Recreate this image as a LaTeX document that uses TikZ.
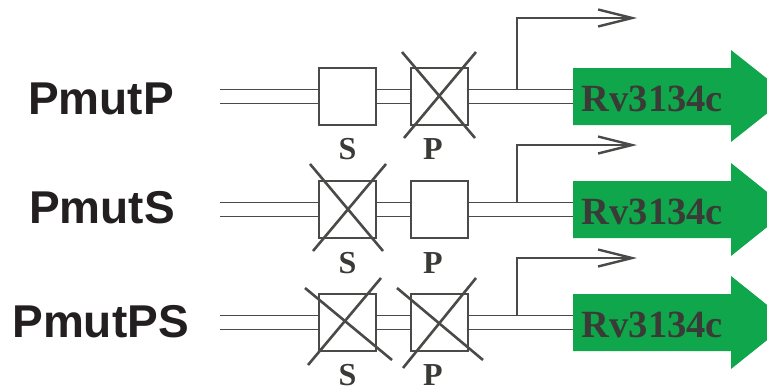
\documentclass[tikz,border=0pt]{standalone}
\usepackage{fontspec}
\setmainfont{Liberation Serif}
\newfontfamily\labelfont{Liberation Sans}
\usetikzlibrary{arrows.meta}
\definecolor{wire}{HTML}{4A4A48}
\definecolor{genegreen}{HTML}{10A64B}
\definecolor{genetext}{HTML}{3A3A36}
\definecolor{strain}{HTML}{231F20}
\tikzset{
  dna/.style={draw=wire, line width=1.3pt},
  sitebox/.style={draw=wire, line width=1.3pt, fill=white, minimum size=57pt, inner sep=0pt},
  xcross/.style={draw=wire, line width=2.6pt},
  sitelabel/.style={inner sep=0pt, text=genetext, font=\fontsize{32}{32}\selectfont\bfseries},
  strainlabel/.style={inner sep=0pt, anchor=base, text=strain, font=\labelfont\fontsize{46}{46}\selectfont\bfseries},
  genename/.style={inner sep=0pt, text=genetext, font=\fontsize{38.5}{38.5}\selectfont\bfseries},
  genearrow/.style={fill=genegreen, draw=none},
  promoter/.style={draw=wire, line width=1.3pt, -{Straight Barb[length=34pt,width=17pt,line width=2.4pt]}},
}
\begin{document}
\begin{tikzpicture}[x=1pt,y=-1pt]
\useasboundingbox (0,0) rectangle (767,391);
\clip (0,0) rectangle (767,391);

% ---------- PmutP ----------
\node[strainlabel] (n1) at (101,114) {PmutP};
\coordinate (d1a) at (220,89.5);  \coordinate (d1b) at (220,103.5);
\coordinate (e1a) at (573,89.5);  \coordinate (e1b) at (573,103.5);
\draw[dna] (d1a) -- (e1a);
\draw[dna] (d1b) -- (e1b);
\node[sitebox] (s1) at (347.5,96.5) {};
\node[sitebox] (p1) at (439.5,96.5) {};
\draw[xcross] ([shift={(-37.5,-44.5)}]p1.center) -- ([shift={(35.5,41.5)}]p1.center);
\draw[xcross] ([shift={(36.5,-44.5)}]p1.center) -- ([shift={(-35.5,41.5)}]p1.center);
\node[sitelabel] (ls1) at (347.5,149.5) {S};
\node[sitelabel] (lp1) at (433,149.5) {P};
\coordinate (t1) at (517,89.5);
\coordinate (u1) at (517,18);
\coordinate (v1) at (637,18);
\draw[promoter] (t1) -- (u1) -- (v1);
\fill[genearrow] (573,68) -- (731,68) -- (731,50) -- (789,96) -- (731,142) -- (731,125) -- (573,125) -- cycle;
\node[genename] (g1) at (652.5,99) {Rv3134c};

% ---------- PmutS ----------
\node[strainlabel] (n2) at (102,223) {PmutS};
\coordinate (d2a) at (220,202.5); \coordinate (d2b) at (220,216.5);
\coordinate (e2a) at (573,202.5); \coordinate (e2b) at (573,216.5);
\draw[dna] (d2a) -- (e2a);
\draw[dna] (d2b) -- (e2b);
\node[sitebox] (s2) at (347.5,209.5) {};
\node[sitebox] (p2) at (439.5,209.5) {};
\draw[xcross] ([shift={(-37.5,-45.5)}]s2.center) -- ([shift={(35.5,41.5)}]s2.center);
\draw[xcross] ([shift={(38.5,-45.5)}]s2.center) -- ([shift={(-34.5,41.5)}]s2.center);
\node[sitelabel] (ls2) at (347.5,263) {S};
\node[sitelabel] (lp2) at (433,263) {P};
\coordinate (t2) at (517,202.5);
\coordinate (u2) at (517,145);
\coordinate (v2) at (637,145);
\draw[promoter] (t2) -- (u2) -- (v2);
\fill[genearrow] (573,181) -- (731,181) -- (731,163) -- (789,209.5) -- (731,256) -- (731,238) -- (573,238) -- cycle;
\node[genename] (g2) at (652.5,212) {Rv3134c};

% ---------- PmutPS ----------
\node[strainlabel] (n3) at (100.5,337) {PmutPS};
\coordinate (d3a) at (220,315.5); \coordinate (d3b) at (220,329.5);
\coordinate (e3a) at (573,315.5); \coordinate (e3b) at (573,329.5);
\draw[dna] (d3a) -- (e3a);
\draw[dna] (d3b) -- (e3b);
\node[sitebox] (s3) at (347.5,322.5) {};
\node[sitebox] (p3) at (439.5,322.5) {};
\draw[xcross] ([shift={(-42.5,-34.5)}]s3.center) -- ([shift={(44.5,37.5)}]s3.center);
\draw[xcross] ([shift={(33.5,-44.5)}]s3.center) -- ([shift={(-39.5,42.5)}]s3.center);
\draw[xcross] ([shift={(-42.5,-34.5)}]p3.center) -- ([shift={(43.5,37.5)}]p3.center);
\draw[xcross] ([shift={(36.5,-44.5)}]p3.center) -- ([shift={(-36.5,45.5)}]p3.center);
\node[sitelabel] (ls3) at (347.5,375.5) {S};
\node[sitelabel] (lp3) at (433,375.5) {P};
\coordinate (t3) at (517,315.5);
\coordinate (u3) at (517,258);
\coordinate (v3) at (637,258);
\draw[promoter] (t3) -- (u3) -- (v3);
\fill[genearrow] (573,294) -- (731,294) -- (731,276) -- (789,322.5) -- (731,369) -- (731,351) -- (573,351) -- cycle;
\node[genename] (g3) at (652.5,325) {Rv3134c};
\end{tikzpicture}
\end{document}
